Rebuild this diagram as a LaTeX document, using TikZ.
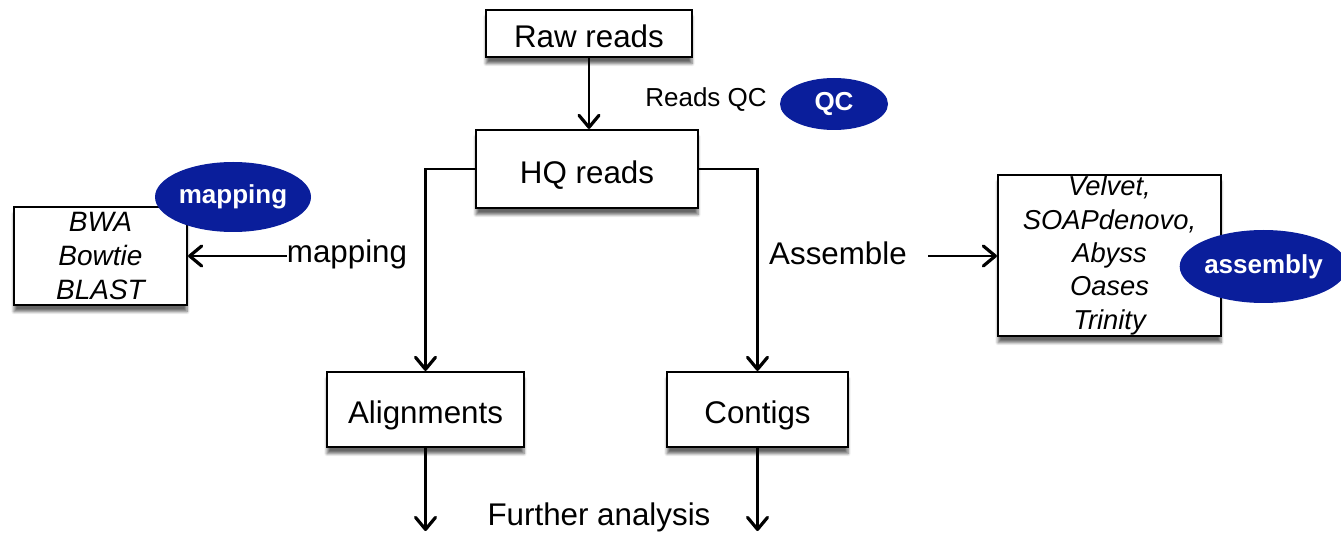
\documentclass[tikz,border=0pt]{standalone}
\usepackage{fontspec}
\setmainfont{Liberation Sans}
\usetikzlibrary{positioning,arrows.meta,shapes.geometric,shadows.blur}
\definecolor{tagblue}{RGB}{10,30,155}

\begin{document}
\begin{tikzpicture}[x=0.75pt,y=-0.75pt,
    box/.style={draw,line width=1.6pt,fill=white,inner sep=0pt,
        blur shadow={shadow xshift=0pt,shadow yshift=-5pt,
        shadow blur steps=6,shadow opacity=60},
        font=\fontsize{23.5}{28}\selectfont},
    stepbox/.style={box,text height=21.5pt,text depth=0pt},
    toolbox/.style={box,align=center,font=\fontsize{20.5}{25}\selectfont\itshape},
    tag/.style={ellipse,fill=tagblue,text=white,inner sep=0pt,
        font=\fontsize{19.5}{23}\selectfont\bfseries},
    lbl/.style={inner sep=0pt,font=\fontsize{23.5}{28}\selectfont},
    arr/.style={line width=1.8pt,
        -{Straight Barb[length=9pt,width=15pt,line width=2.4pt,round]}}
    ]

    \useasboundingbox (0,0) rectangle (1341,534);

    % Raw reads and QC
    \node[stepbox,minimum width=154.5pt,minimum height=35.25pt] (raw) at (589,33.5) {Raw reads};
    \node[stepbox,minimum width=166.5pt,minimum height=58.5pt] (hq) at (587,169) {HQ reads};
    \node[lbl,font=\fontsize{19.5}{23}\selectfont] (qclbl) at (706,100) {Reads QC};
    \node[tag,minimum width=81pt,minimum height=39pt] (qc) at (834,104) {QC};
    \draw[arr] (raw.south) -- (raw.south |- hq.north);

    % Alignments and contigs
    \node[stepbox,minimum width=147.75pt,minimum height=56.25pt] (align) at (425.5,409.5) {Alignments};
    \node[stepbox,minimum width=135.75pt,minimum height=56.25pt] (contig) at (757.5,409.5) {Contigs};
    \draw[arr] (hq.west) -| (align.north);
    \draw[arr] (hq.east) -| (contig.north);

    % Mapping tools
    \node[toolbox,font=\fontsize{21}{25.5}\selectfont\itshape,
        minimum width=129.75pt,minimum height=73.5pt] (mapbox) at (100.5,256)
        {BWA\\Bowtie\\BLAST};
    \node[tag,minimum width=117pt,minimum height=52.5pt] (maptag) at (233,197) {mapping};
    \node[lbl] (maplbl) at (347,254) {mapping};
    \draw[arr] (maplbl.west |- mapbox.east) -- (mapbox.east);

    % Assembly tools
    \node[toolbox,minimum width=167.25pt,minimum height=120.75pt] (asmbox) at (1109.5,255.5)
        {Velvet,\\SOAPdenovo,\\Abyss\\Oases\\Trinity};
    \node[tag,minimum width=108.75pt,minimum height=54.75pt] (asmtag) at (1263.5,266.5) {assembly};
    \node[lbl] (asmlbl) at (838,253) {Assemble};
    \coordinate (asmfrom) at (928,256);
    \draw[arr] (asmfrom) -- (asmbox.west |- asmfrom);

    % Further analysis
    \node[lbl] (further) at (599,517) {Further analysis};
    \coordinate (alignout) at (426,531);
    \coordinate (contigout) at (757,531);
    \draw[arr] (align.south) -- (align.south |- alignout);
    \draw[arr] (contig.south) -- (contig.south |- contigout);

\end{tikzpicture}
\end{document}
